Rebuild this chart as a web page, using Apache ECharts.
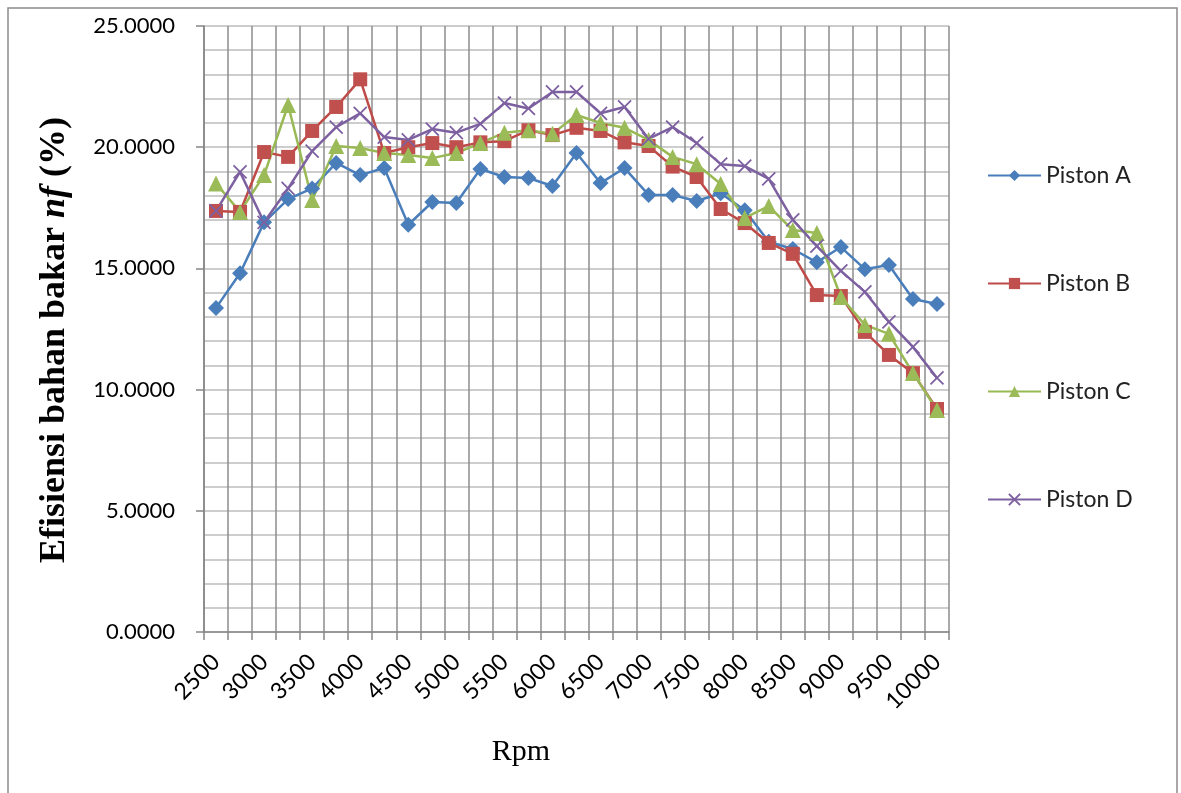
<!DOCTYPE html>
<html>
<head>
<meta charset="utf-8">
<script src="https://cdn.jsdelivr.net/npm/echarts@6/dist/echarts.min.js"></script>
<style>
html,body{margin:0;padding:0;background:#fff;}
#chart{width:1181px;height:793px;}
</style>
</head>
<body>
<div id="chart"></div>
<script>
const categories = ['2500','2750','3000','3250','3500','3750','4000','4250','4500','4750','5000','5250','5500','5750','6000','6250','6500','6750','7000','7250','7500','7750','8000','8250','8500','8750','9000','9250','9500','9750','10000'];
const pistonA = [13.37,14.80,16.90,17.86,18.30,19.35,18.85,19.14,16.80,17.74,17.70,19.10,18.77,18.73,18.40,19.76,18.52,19.14,18.03,18.03,17.78,18.10,17.40,16.10,15.80,15.25,15.88,14.97,15.14,13.74,13.53];
const pistonB = [17.37,17.33,19.80,19.60,20.67,21.66,22.80,19.76,20.00,20.17,20.00,20.20,20.25,20.70,20.50,20.80,20.67,20.20,20.05,19.20,18.77,17.45,16.87,16.05,15.60,13.90,13.86,12.38,11.43,10.68,9.20];
const pistonC = [18.50,17.33,18.85,21.74,17.82,20.05,19.97,19.76,19.68,19.55,19.76,20.17,20.60,20.70,20.55,21.33,21.00,20.80,20.30,19.60,19.30,18.48,17.08,17.57,16.58,16.46,13.82,12.67,12.30,10.68,9.16];
const pistonD = [17.37,18.98,16.90,18.30,19.84,20.83,21.40,20.42,20.30,20.75,20.60,20.96,21.82,21.60,22.28,22.28,21.40,21.66,20.34,20.83,20.17,19.30,19.22,18.69,17.00,15.92,14.90,14.03,12.79,11.76,10.48];
const seriesNames = ['Piston A','Piston B','Piston C','Piston D'];
const yTitle = 'Efisiensi bahan bakar ';
const yTitleItalic = 'nf';
const yTitleEnd = ' (%)';
const xTitle = 'Rpm';

const chart = echarts.init(document.getElementById('chart'), null, {renderer:'canvas'});
const sansFont = 'Lato';
const serifFont = '"Liberation Serif", "Times New Roman", serif';
const xMark = 'path://M0,0 L10,10 M10,0 L0,10';

function mkSeries(name, data, lineColor, markColor, symbol, size, extra) {
  return Object.assign({
    name: name,
    type: 'line',
    data: data,
    symbol: symbol,
    symbolSize: size,
    showSymbol: true,
    showAllSymbol: true,
    symbolKeepAspect: true,
    lineStyle: {color: lineColor, width: 2.5},
    itemStyle: {color: markColor, borderWidth: 0},
    emphasis: {disabled: true},
    animation: false
  }, extra || {});
}

const option = {
  animation: false,
  backgroundColor: '#fff',
  textStyle: {fontFamily: sansFont},
  grid: {left: 204, right: 232, top: 26, bottom: 161, containLabel: false, outerBoundsMode: 'none'},
  legend: {
    orient: 'vertical',
    left: 987,
    top: 164,
    padding: 0,
    itemWidth: 53,
    itemHeight: 14,
    itemGap: 85,
    textStyle: {fontFamily: sansFont, fontSize: 23, color: '#222', lineHeight: 23},
    data: seriesNames
  },
  xAxis: {
    type: 'category',
    data: categories,
    boundaryGap: true,
    axisLine: {show: true, lineStyle: {color: '#868686', width: 1.5}},
    axisTick: {show: true, interval: 0, length: 8, inside: false, alignWithLabel: false, lineStyle: {color: '#868686', width: 1.5}},
    axisLabel: {interval: 1, rotate: 45, fontSize: 23, color: '#000', margin: 26, fontFamily: sansFont},
    splitLine: {show: true, interval: 0, lineStyle: {color: '#8c8c8c', width: 1.5}}
  },
  yAxis: {
    type: 'value',
    min: 0,
    max: 25,
    interval: 5,
    axisLine: {show: true, lineStyle: {color: '#868686', width: 1.5}},
    axisTick: {show: true, length: 8, inside: false, lineStyle: {color: '#868686', width: 1.5}},
    axisLabel: {fontSize: 22, color: '#000', margin: 29, fontFamily: sansFont, formatter: function (v) { return v.toFixed(4); }},
    splitLine: {show: true, lineStyle: {color: '#bdbdbd', width: 1.5}},
    minorTick: {show: false, splitNumber: 5},
    minorSplitLine: {show: true, lineStyle: {color: '#bdbdbd', width: 1.5}}
  },
  graphic: [
    {type: 'rect', shape: {x: 8, y: 8, width: 1169, height: 800}, style: {fill: 'none', stroke: '#8c8c8c', lineWidth: 1.5}, silent: true, z: -1},
    {type: 'text', x: 55, y: 340, rotation: Math.PI / 2, silent: true,
      style: {
        text: '{b|' + yTitle + '}{i|' + yTitleItalic + '}{b|' + yTitleEnd + '}',
        align: 'center', verticalAlign: 'middle',
        rich: {
          b: {fontFamily: serifFont, fontWeight: 'bold', fontSize: 36, fill: '#000', color: '#000'},
          i: {fontFamily: serifFont, fontWeight: 'bold', fontStyle: 'italic', fontSize: 36, fill: '#000', color: '#000'}
        }
      }
    },
    {type: 'text', x: 521, y: 752, silent: true,
      style: {text: xTitle, fontFamily: serifFont, fontSize: 30, fill: '#000', align: 'center', verticalAlign: 'middle'}}
  ],
  series: [
    mkSeries(seriesNames[0], pistonA, '#4A7EBB', '#4A7EBB', 'diamond', 16),
    mkSeries(seriesNames[1], pistonB, '#BE4B48', '#C0504D', 'rect', 14),
    mkSeries(seriesNames[2], pistonC, '#98B954', '#9BBB59', 'triangle', 16),
    mkSeries(seriesNames[3], pistonD, '#7D60A0', '#7D60A0', xMark, 13, {itemStyle: {color: '#7D60A0', borderColor: '#7D60A0', borderWidth: 1.8}})
  ]
};
chart.setOption(option);
</script>
</body>
</html>
